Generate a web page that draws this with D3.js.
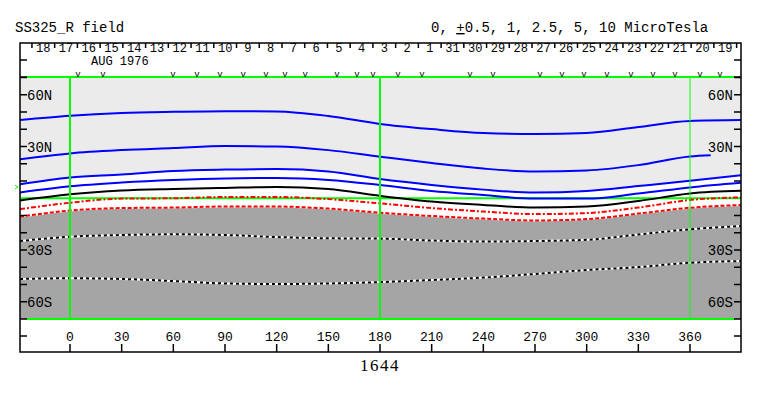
<!DOCTYPE html>
<html>
<head>
<meta charset="utf-8">
<script src="https://cdn.jsdelivr.net/npm/d3@7"></script>
<style>
body { margin: 0; background: #fff; }
text { font-family: "Liberation Mono", "DejaVu Sans Mono", monospace; fill: #000; }
</style>
</head>
<body>
<svg id="chart" width="763" height="396"></svg>
<script>
// contour latitudes (deg) read at each longitude
const lons = [-29, 0, 30, 60, 90, 120, 150, 180, 210, 240, 270, 300, 330, 360, 390];
const lonsShort = [-29, 0, 30, 60, 90, 120, 150, 180, 210, 240, 270, 300, 330, 360, 372];
const cP5 = [45.3, 47.8, 49.4, 50.1, 50.5, 50.3, 47.7, 43.1, 40.1, 37.8, 37.2, 37.8, 41.3, 44.8, 45.3];
const cP2_5 = [22.6, 26.0, 27.9, 29.1, 30.3, 30.0, 27.9, 24.1, 20.4, 17.2, 15.5, 16.1, 19.2, 24.2, 24.9];
const cP1 = [8.1, 12.0, 13.7, 15.8, 16.6, 16.9, 15.5, 11.1, 7.7, 5.0, 3.3, 4.2, 7.1, 10.1, 13.4];
const cP0_5 = [3.3, 6.9, 9.1, 10.6, 11.5, 11.7, 10.6, 7.7, 4.2, 1.9, -0.2, -0.2, 2.7, 6.3, 9.0];
const c0 = [-1.3, 2.3, 4.5, 5.4, 6.0, 6.5, 5.3, 1.4, -1.9, -3.9, -5.4, -4.8, -1.6, 2.8, 4.3];
const cM0_5 = [-6.3, -2.6, -0.2, 0.0, 0.7, 0.7, -0.5, -3.0, -5.7, -7.7, -9.2, -8.6, -5.4, -1.0, 0.5];
const cM1 = [-10.7, -7.1, -5.7, -5.4, -4.8, -4.8, -6.0, -8.4, -10.3, -11.8, -12.9, -12.1, -8.9, -5.5, -3.9];
const cM2_5 = [-24.8, -22.3, -21.3, -20.9, -21.3, -22.5, -23.2, -23.4, -24.5, -25.1, -24.8, -24.1, -21.0, -18.0, -16.1];
const cM5 = [-46.8, -46.4, -46.8, -48.0, -49.4, -49.7, -49.4, -48.6, -47.4, -46.0, -43.9, -41.6, -39.9, -37.4, -36.4];

const lonTicks = [0, 30, 60, 90, 120, 150, 180, 210, 240, 270, 300, 330, 360];
const latLabels = [[60, "60N"], [30, "30N"], [-30, "30S"], [-60, "60S"]];
const greenLons = [0, 180, 360];
const dayLabels = ["18", "17", "16", "15", "14", "13", "12", "11", "10", "9", "8", "7", "6", "5", "4", "3", "2", "1",
                   "31", "30", "29", "28", "27", "26", "25", "24", "23", "22", "21", "20", "19"];
const dayStartLon = -22.1;
const degPerDay = 360 / 27.2753;
const passLons = [4.6, 19.2, 59.8, 73.7, 87.1, 100.5, 113.8, 124.8, 136.5, 155, 166.6, 175.9, 190.4, 204.4,
                  232.3, 245.6, 272.9, 285.7, 298.4, 311.8, 325.7, 338.5, 351.3, 365.8, 377.4];
const markerLat = 6.5;
const rotation = "1644";

const svgSpace = d3.select("#chart");
const pLeft = 20, pRight = 741, pTop = 77, pBottom = 319, frameTop = 43, frameBottom = 352;

const x = d3.scaleLinear().domain([0, 360]).range([70, 690]);
const y = d3.scaleLinear().domain([70, -70]).range([77.5, 319]);

svgSpace.append("defs").append("clipPath").attr("id", "plotClip")
    .append("rect").attr("x", pLeft).attr("y", pTop).attr("width", pRight - pLeft).attr("height", pBottom - pTop);

const plot = svgSpace.append("g").attr("clip-path", "url(#plotClip)");

const pts = (ls, vs) => vs.map((v, i) => [ls[i], v]);

// light gray: field above +1
plot.append("path")
    .datum(pts(lons, cP1))
    .attr("fill", "#ebebeb")
    .attr("d", d3.area().x(d => x(d[0])).y0(y(75)).y1(d => y(d[1])).curve(d3.curveMonotoneX));

// dark gray: field below -1
plot.append("path")
    .datum(pts(lons, cM1))
    .attr("fill", "#a5a5a5")
    .attr("d", d3.area().x(d => x(d[0])).y0(y(-75)).y1(d => y(d[1]) + 1).curve(d3.curveMonotoneX));

const line = d3.line().x(d => x(d[0])).y(d => y(d[1])).curve(d3.curveMonotoneX);

function contour(ls, vs, color, dash) {
    plot.append("path")
        .datum(pts(ls, vs))
        .attr("fill", "none")
        .attr("stroke", color)
        .attr("stroke-width", 2)
        .attr("stroke-dasharray", dash)
        .attr("d", line);
}

// equator
plot.append("line").attr("x1", pLeft).attr("x2", pRight).attr("y1", y(0)).attr("y2", y(0))
    .attr("stroke", "#00ff00").attr("stroke-width", 2);

contour(lons, cP5, "#0000ff", null);
contour(lonsShort, cP2_5, "#0000ff", null);
contour(lons, cP1, "#0000ff", null);
contour(lons, cP0_5, "#0000ff", null);
contour(lons, c0, "#000", null);
contour(lons, cM0_5, "#ff0000", "5,2,2,2");
contour(lons, cM1, "#ff0000", "4,2");
contour(lons, cM2_5, "#fff", null);
contour(lons, cM2_5, "#000", "3,3");
contour(lons, cM5, "#fff", null);
contour(lons, cM5, "#000", "3,3");

greenLons.forEach((lon, i) => {
    plot.append("line")
        .attr("x1", x(lon)).attr("x2", x(lon)).attr("y1", pTop).attr("y2", pBottom)
        .attr("stroke", "#00ff00").attr("stroke-width", i < 2 ? 2 : 1);
});

// green top/bottom of plot
[pTop, pBottom].forEach(yy => {
    svgSpace.append("line").attr("x1", 27).attr("x2", 735).attr("y1", yy).attr("y2", yy)
        .attr("stroke", "#00ff00").attr("stroke-width", 2);
});

// frame
const frame = svgSpace.append("g").attr("stroke", "#000").attr("stroke-width", 1.5).attr("fill", "none");
frame.append("path").attr("d", `M${pLeft},${frameTop}H${pRight}V${frameBottom}H${pLeft}Z`);

// side ticks, every 10 deg, plus header/bottom ticks
const sideYs = d3.range(-70, 71, 10).filter(d => d !== 0).map(d => y(d)).concat([60, pTop, 336]);
sideYs.forEach(yy => {
    frame.append("line").attr("x1", pLeft).attr("x2", pLeft + 7).attr("y1", yy).attr("y2", yy);
    frame.append("line").attr("x1", pRight - 7).attr("x2", pRight).attr("y1", yy).attr("y2", yy);
});

// latitude labels
latLabels.forEach(([lat, t]) => {
    svgSpace.append("text").text(t).attr("x", pLeft + 7).attr("y", y(lat) + 5).style("font-size", "14px");
    svgSpace.append("text").text(t).attr("x", pRight - 8).attr("y", y(lat) + 5)
        .attr("text-anchor", "end").style("font-size", "14px");
});

// bottom longitude axis
lonTicks.forEach(lon => {
    frame.append("line").attr("x1", x(lon)).attr("x2", x(lon)).attr("y1", frameBottom - 8).attr("y2", frameBottom);
    svgSpace.append("text").text(lon).attr("x", x(lon)).attr("y", 341)
        .attr("text-anchor", "middle").style("font-size", "13px");
});

svgSpace.append("text").text(rotation).attr("x", x(180)).attr("y", 371)
    .attr("text-anchor", "middle")
    .style("font-family", "'Liberation Serif', serif").style("font-size", "17px").style("letter-spacing", "1.5px");

// day ruler
const dayX = k => x(dayStartLon + degPerDay * k);
d3.range(dayLabels.length + 1).forEach(k => {
    frame.append("line").attr("x1", dayX(k)).attr("x2", dayX(k)).attr("y1", frameTop).attr("y2", frameTop + 5);
});
dayLabels.forEach((d, k) => {
    svgSpace.append("text").text(d).attr("x", (dayX(k) + dayX(k + 1)) / 2).attr("y", 52)
        .attr("text-anchor", "middle").style("font-size", "12px");
});
svgSpace.append("text").text("AUG 1976").attr("x", 91).attr("y", 65).style("font-size", "12px");

// pass markers
passLons.forEach(lon => {
    svgSpace.append("text").text("v").attr("x", x(lon)).attr("y", 77)
        .attr("text-anchor", "middle").style("font-size", "9px");
});

// small marker on left
svgSpace.append("path")
    .attr("d", `M15,${y(markerLat) - 2}L18,${y(markerLat)}L15,${y(markerLat) + 2}`)
    .attr("fill", "none").attr("stroke", "#00ff00").attr("stroke-width", 1);

// titles
svgSpace.append("text").text("SS325_R field").attr("x", 15).attr("y", 32).style("font-size", "14px");
const units = svgSpace.append("text").attr("x", 431).attr("y", 32).style("font-size", "14px");
units.append("tspan").text("0, ");
units.append("tspan").text("+").style("text-decoration", "underline");
units.append("tspan").text("0.5, 1, 2.5, 5, 10 MicroTesla");
</script>
</body>
</html>
